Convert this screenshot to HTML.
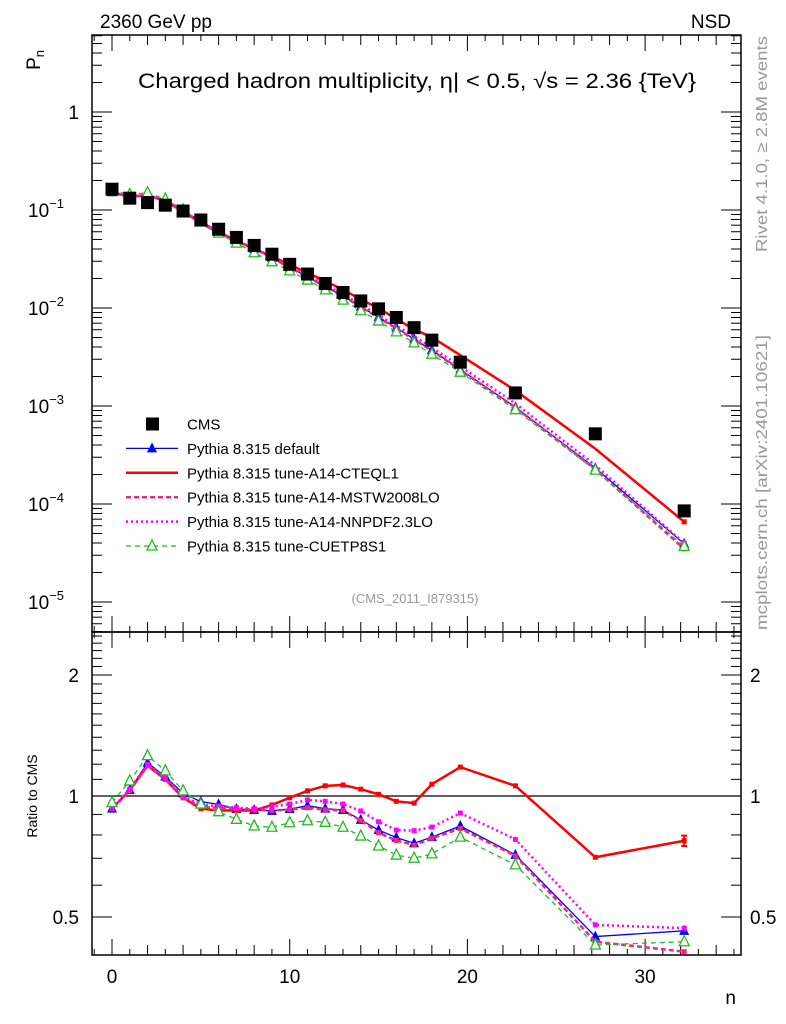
<!DOCTYPE html>
<html><head><meta charset="utf-8"><style>
html,body{margin:0;padding:0;background:#fff;}
svg{display:block;font-family:"Liberation Sans",sans-serif;}
</style></head><body>
<svg id="chart" width="786" height="1024" viewBox="0 0 786 1024" xmlns="http://www.w3.org/2000/svg">
<text x="100" y="28" font-size="19">2360 GeV pp</text>
<text x="731" y="28" font-size="19" text-anchor="end">NSD</text>
<text x="138" y="88" font-size="21" textLength="558" lengthAdjust="spacingAndGlyphs">Charged hadron multiplicity, η| &lt; 0.5, √s = 2.36 {TeV}</text>
<text transform="translate(40,50) rotate(-90)" font-size="19" text-anchor="end">P<tspan font-size="13" dy="4">n</tspan></text>
<text transform="translate(767,252) rotate(-90)" font-size="16" fill="#999" textLength="216" lengthAdjust="spacingAndGlyphs">Rivet 4.1.0, ≥ 2.8M events</text>
<text transform="translate(767,630) rotate(-90)" font-size="16" fill="#999" textLength="295" lengthAdjust="spacingAndGlyphs">mcplots.cern.ch [arXiv:2401.10621]</text>
<text x="415" y="603" font-size="13" fill="#999" text-anchor="middle">(CMS_2011_I879315)</text>
<text transform="translate(37,796) rotate(-90)" font-size="14" text-anchor="middle">Ratio to CMS</text>
<text x="736" y="1004" font-size="19" text-anchor="end">n</text>
<g id="axes"></g>
<g id="series"></g>
<g id="legend"></g>
</svg>
<script>
const nVals=[0,1,2,3,4,5,6,7,8,9,10,11,12,13,14,15,16,17,18,19.6,22.7,27.2,32.2];
const cms=[0.163,0.132,0.119,0.112,0.0976,0.0791,0.0636,0.0525,0.0435,0.0354,0.0279,0.0222,0.0178,0.0144,0.0118,0.0098,0.0080,0.0063,0.0047,0.0028,0.00136,0.00052,0.000085];
const rDefault=[0.93,1.035,1.21,1.117,1.015,0.968,0.953,0.928,0.923,0.918,0.928,0.946,0.93,0.923,0.872,0.823,0.788,0.763,0.79,0.842,0.714,0.447,0.462];
const rCTEQ=[0.93,1.035,1.19,1.10,0.99,0.93,0.92,0.92,0.92,0.95,0.99,1.03,1.06,1.065,1.04,1.01,0.97,0.96,1.07,1.18,1.06,0.704,0.774];
const rMSTW=[0.93,1.03,1.19,1.10,0.99,0.94,0.935,0.93,0.925,0.92,0.925,0.935,0.925,0.92,0.87,0.81,0.775,0.755,0.785,0.83,0.71,0.434,0.41];
const rNNPDF=[0.93,1.04,1.20,1.11,1.0,0.95,0.945,0.935,0.93,0.94,0.955,0.978,0.97,0.955,0.918,0.863,0.823,0.82,0.837,0.907,0.78,0.478,0.469];
const rCUETP=[0.963,1.09,1.26,1.155,1.03,0.955,0.914,0.875,0.842,0.836,0.858,0.868,0.86,0.836,0.795,0.751,0.713,0.70,0.718,0.79,0.674,0.426,0.434];
const xTicks=[0,10,20,30];
const mainTicks=[1,0.1,0.01,0.001,0.0001,0.00001];
const mainTickLabels=["1","10","10","10","10","10"];
const mainTickExp=["","−1","−2","−3","−4","−5"];
const ratioTicks=[0.5,1,2];

const NS="http://www.w3.org/2000/svg";
const L=92,R=741,T=35,MID=632,B=955;
const X=n=>112+17.77*n;
const Y=p=>112-98*Math.log10(p);
const YR=r=>796-402*Math.log10(r);
function mk(tag,at,parent){const e=document.createElementNS(NS,tag);for(const k in at)e.setAttribute(k,at[k]);parent.appendChild(e);return e;}
const ax=document.getElementById('axes'),se=document.getElementById('series'),lg=document.getElementById('legend');

let f1=mk('rect',{x:L,y:T,width:R-L,height:MID-T,fill:'none',stroke:'#000','stroke-width':1.5},ax);


let f2=mk('rect',{x:L,y:MID,width:R-L,height:B-MID,fill:'none',stroke:'#000','stroke-width':1.5},ax);


for(let n=-1;n<=35;n++){
  const x=X(n); if(x<L||x>R)continue;
  const len=(n%10===0)?16:(n%2===0?10:6);
  for(const [y0,dir] of [[T,1],[MID,-1],[MID,1],[B,-1]]){
    const t=mk('line',{x1:x,x2:x,y1:y0,y2:y0+dir*len,stroke:'#000','stroke-width':1},ax);
    
    
  }
}
xTicks.forEach(v=>{
  const t=mk('text',{x:X(v),y:983,'font-size':19,'text-anchor':'middle'},ax);t.textContent=String(v);
  
  
});
for(let e=-6;e<=0;e++){
  for(let m=1;m<=9;m++){
    const v=m*Math.pow(10,e),y=Y(v);
    if(y<T||y>MID)continue;
    const len=m===1?20:10;
    for(const [x0,dir] of [[L,1],[R,-1]]){
      const t=mk('line',{x1:x0,x2:x0+dir*len,y1:y,y2:y,stroke:'#000','stroke-width':1},ax);
      
      
    }
  }
}
mainTicks.forEach((v,i)=>{
  const t=mk('text',{x:mainTickExp[i]?64:79,y:Y(v)+7,'font-size':19,'text-anchor':'end'},ax);
  t.textContent=mainTickLabels[i];
  if(mainTickExp[i]){const s=mk('tspan',{'font-size':13,dy:-9},t);s.textContent=mainTickExp[i];}
  
  
});
for(let k=4;k<=25;k++){
  const v=k/10,y=YR(v); if(y<MID||y>B)continue;
  const major=ratioTicks.includes(v);const len=major?20:10;
  for(const [x0,dir] of [[L,1],[R,-1]]){
    const t=mk('line',{x1:x0,x2:x0+dir*len,y1:y,y2:y,stroke:'#000','stroke-width':1},ax);
    
    
  }
}
ratioTicks.forEach(v=>{
  const t=mk('text',{x:79,y:YR(v)+7,'font-size':19,'text-anchor':'end'},ax);t.textContent=String(v);
  
  
  const t2=mk('text',{x:750,y:YR(v)+7,'font-size':19},ax);t2.textContent=String(v);
  
  
});
const one=mk('line',{x1:L,x2:R,y1:YR(1),y2:YR(1),stroke:'#000','stroke-width':1.2},ax);



const series=[
 {name:'pythia-default',r:rDefault,color:'#0000ff',w:1.3,dash:'',marker:'tri'},
 {name:'pythia-a14-cteql1',r:rCTEQ,color:'#ff0000',w:2.5,dash:'',marker:'sq'},
 {name:'pythia-a14-mstw2008lo',r:rMSTW,color:'#f0287a',w:2.5,dash:'5,3',marker:'sq'},
 {name:'pythia-a14-nnpdf23lo',r:rNNPDF,color:'#ff00ff',w:2.5,dash:'2,3',marker:'sq'},
 {name:'pythia-cuetp8s1',r:rCUETP,color:'#22bb22',w:1.3,dash:'5,4',marker:'otri'}
];
function marker(type,x,y,color,g){
  let e;
  if(type==='tri'){e=mk('path',{d:`M${x-5},${y+4}L${x+5},${y+4}L${x},${y-6}Z`,fill:color},g);}
  else if(type==='otri'){e=mk('path',{d:`M${x-5},${y+4}L${x+5},${y+4}L${x},${y-6}Z`,fill:'#fff',stroke:color,'stroke-width':1.3},g);}
  else {e=mk('rect',{x:x-2.5,y:y-2.5,width:5,height:5,fill:color},g);}
  return e;
}
series.forEach(s=>{
  const g=mk('g',{},se);
  
  
  const mainPts=nVals.map((n,i)=>[X(n),Y(cms[i]*s.r[i])]);
  const ratPts=nVals.map((n,i)=>[X(n),YR(s.r[i])]);
  [mainPts,ratPts].forEach((pts,j)=>{
    const p=mk('polyline',{points:pts.map(p=>p.join(',')).join(' '),fill:'none',stroke:s.color,'stroke-width':s.w,'stroke-dasharray':s.dash},g);
    
    
    pts.forEach(([x,y])=>{
      if(s.marker==='sq' && j===0 && x<X(30))return;
      const m=marker(s.marker,x,y,s.color,g);
      
      
    });
  });
});
{const i=nVals.length-1,x=X(nVals[i]);
 const e=mk('path',{d:`M${x},${YR(rCTEQ[i]*1.03)}V${YR(rCTEQ[i]*0.97)}M${x-3},${YR(rCTEQ[i]*1.03)}h6M${x-3},${YR(rCTEQ[i]*0.97)}h6`,stroke:'#ff0000','stroke-width':2,fill:'none'},se);
 
 }
{const g=mk('g',{},se);
 
 
 nVals.forEach((n,i)=>{
  const r=mk('rect',{x:X(n)-6.5,y:Y(cms[i])-6.5,width:13,height:13,fill:'#000'},g);
  
  
 });}
const leg=[['CMS','cms','#000','',2,'bigsq'],['Pythia 8.315 default','default','#0000ff','',1.3,'tri'],['Pythia 8.315 tune-A14-CTEQL1','cteql1','#ff0000','',2.5,''],['Pythia 8.315 tune-A14-MSTW2008LO','mstw','#f0287a','5,3',2.5,''],['Pythia 8.315 tune-A14-NNPDF2.3LO','nnpdf','#ff00ff','2,3',2.5,''],['Pythia 8.315 tune-CUETP8S1','cuetp','#22bb22','5,4',1.3,'otri']];
leg.forEach((e,i)=>{
  const y=424+i*24.4;
  const g=mk('g',{},lg);
  
  
  if(e[5]==='bigsq'){mk('rect',{x:146,y:y-6.5,width:13,height:13,fill:'#000'},g);}
  else{mk('line',{x1:126,x2:178,y1:y,y2:y,stroke:e[2],'stroke-width':e[4],'stroke-dasharray':e[3]},g);
    if(e[5])marker(e[5],152,y,e[2],g);}
  const t=mk('text',{x:187,y:y+5.5,'font-size':15},g);t.textContent=e[0];
});
</script>
</body></html>
